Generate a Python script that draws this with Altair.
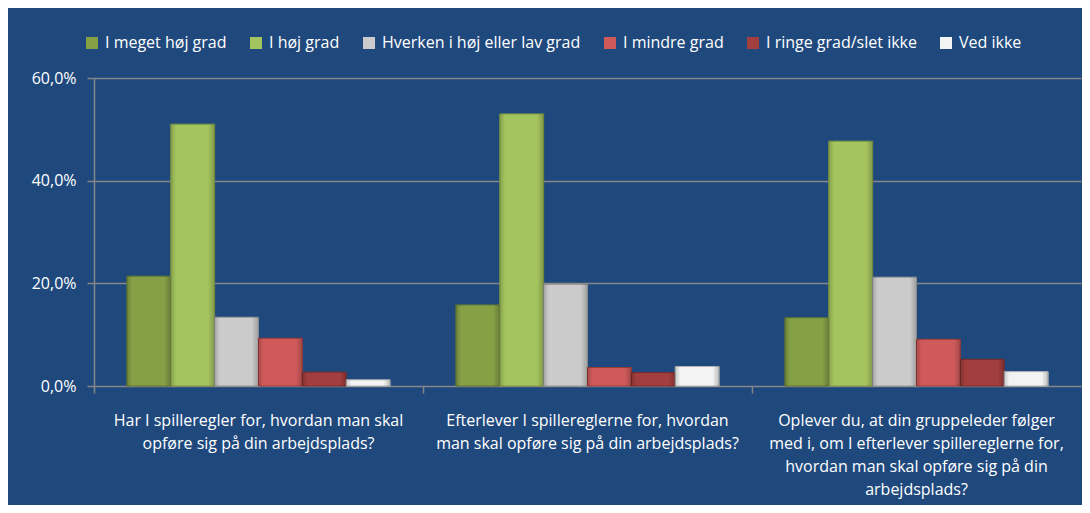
import altair as alt
import pandas as pd

questions = [
    "Har I spilleregler for, hvordan man skal\nopføre sig på din arbejdsplads?",
    "Efterlever I spillereglerne for, hvordan\nman skal opføre sig på din arbejdsplads?",
    "Oplever du, at din gruppeleder følger\nmed i, om I efterlever spillereglerne for,\nhvordan man skal opføre sig på din\narbejdsplads?",
]
series = [
    "I meget høj grad",
    "I høj grad",
    "Hverken i høj eller lav grad",
    "I mindre grad",
    "I ringe grad/slet ikke",
    "Ved ikke",
]
meget_hoej = [21.4, 15.8, 13.3]
hoej = [51.0, 53.0, 47.7]
hverken = [13.4, 19.8, 21.2]
mindre = [9.3, 3.6, 9.1]
ringe = [2.7, 2.6, 5.2]
ved_ikke = [1.2, 3.8, 2.8]

fill_colors = ["#86A046", "#A4C45E", "#CBCBCB", "#D05A5A", "#A33E3E", "#F3F3F3"]
stroke_colors = ["#5E7530", "#7F9A42", "#9A9A9A", "#9E3B3B", "#7A2A2A", "#B5B5B5"]

rows = []
for s, vals in zip(series, [meget_hoej, hoej, hverken, mindre, ringe, ved_ikke]):
    for q, v in zip(questions, vals):
        rows.append({"question": q, "series": s, "value": v})
df = pd.DataFrame(rows)

FONT = "Open Sans"
FS = 16
GRID = "#868686"

x_enc = alt.X(
    "question:N",
    sort=questions,
    scale=alt.Scale(paddingInner=0, paddingOuter=0),
    axis=alt.Axis(
        title=None,
        labelAngle=0,
        labelExpr="split(datum.label, '\\n')",
        labelColor="white",
        labelFont=FONT,
        labelFontSize=FS,
        labelLineHeight=23,
        labelBaseline="top",
        labelPadding=19,
        labelLimit=500,
        bandPosition=0,
        ticks=True,
        tickSize=7,
        tickColor=GRID,
        tickWidth=1.5,
        domain=False,
        grid=False,
    ),
)
xo_enc = alt.XOffset(
    "series:N", sort=series, scale=alt.Scale(paddingInner=0, paddingOuter=0.75)
)
y_enc = alt.Y(
    "value:Q",
    scale=alt.Scale(domain=[0, 60], nice=False),
    axis=alt.Axis(
        title=None,
        values=[0, 20, 40, 60],
        labelExpr="replace(format(datum.value, '.1f'), '.', ',') + '%'",
        labelColor="white",
        labelFont=FONT,
        labelFontSize=FS,
        labelPadding=11,
        grid=True,
        gridColor=GRID,
        gridWidth=1.5,
        domain=True,
        domainColor=GRID,
        domainWidth=1.5,
        ticks=True,
        tickSize=7,
        tickColor=GRID,
        tickWidth=1.5,
    ),
)

bars = alt.Chart(df).mark_bar(strokeWidth=1).encode(
    x=x_enc,
    xOffset=xo_enc,
    y=y_enc,
    color=alt.Color(
        "series:N",
        sort=series,
        scale=alt.Scale(domain=series, range=fill_colors),
        legend=alt.Legend(
            title=None,
            orient="none",
            legendX=-10,
            legendY=-43,
            direction="horizontal",
            columns=6,
            columnPadding=21,
            symbolType="square",
            symbolSize=144,
            symbolStrokeWidth=0,
            labelColor="white",
            labelFont=FONT,
            labelFontSize=FS,
            labelOffset=5,
            labelLimit=300,
        ),
    ),
    stroke=alt.Stroke(
        "series:N",
        sort=series,
        scale=alt.Scale(domain=series, range=stroke_colors),
        legend=None,
    ),
)

shade = alt.Chart(df).mark_bar(
    color=alt.Gradient(
        gradient="linear",
        x1=0, x2=1, y1=0, y2=0,
        stops=[
            alt.GradientStop(color="rgba(0,0,0,0.18)", offset=0),
            alt.GradientStop(color="rgba(0,0,0,0)", offset=0.12),
            alt.GradientStop(color="rgba(0,0,0,0)", offset=0.85),
            alt.GradientStop(color="rgba(0,0,0,0.22)", offset=1),
        ],
    )
).encode(x=x_enc, xOffset=xo_enc, y=y_enc)

chart = (
    alt.layer(bars, shade)
    .properties(
        width=987,
        height=308,
        autosize=alt.AutoSizeParams(type="none"),
        padding={"left": 86, "top": 70, "right": 1, "bottom": 119},
        background="#1F497D",
    )
    .configure_view(stroke=None)
)

chart.save("out.html", embed_options={"renderer": "svg", "actions": False})
